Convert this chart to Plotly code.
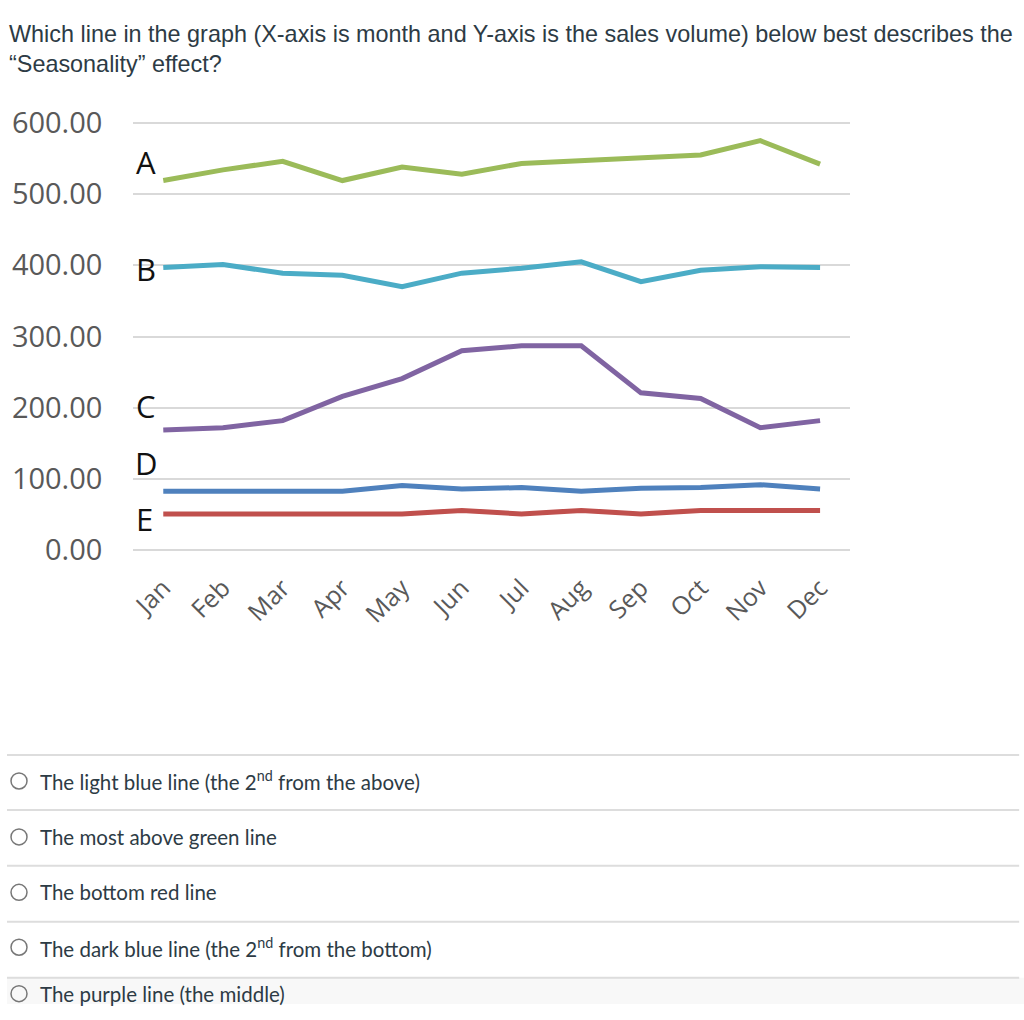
import plotly.graph_objects as go

W, H = 1024, 1020

months = ["Jan", "Feb", "Mar", "Apr", "May", "Jun", "Jul", "Aug", "Sep", "Oct", "Nov", "Dec"]
line_a = [519, 534, 546, 519, 538, 528, 543, 547, 550, 555, 575, 542]
line_b = [397, 401, 389, 386, 370, 389, 396, 405, 377, 393, 398, 397]
line_c = [169, 172, 182, 216, 241, 280, 287, 287, 221, 213, 172, 182]
line_d = [83, 83, 83, 83, 91, 86, 88, 83, 87, 88, 92, 86]
line_e = [51, 51, 51, 51, 51, 56, 51, 56, 51, 56, 56, 56]
y_ticks = [0, 100, 200, 300, 400, 500, 600]

series_names = ["A", "B", "C", "D", "E"]
series_values = [line_a, line_b, line_c, line_d, line_e]
series_colors = ["#9BBB59", "#4BACC6", "#8064A2", "#4F81BD", "#C0504D"]

question = [
    "Which line in the graph (X-axis is month and Y-axis is the sales volume) below best describes the",
    "\u201cSeasonality\u201d effect?",
]
options = [
    "The light blue line (the 2<sup>nd</sup> from the above)",
    "The most above green line",
    "The bottom red line",
    "The dark blue line (the 2<sup>nd</sup> from the bottom)",
    "The purple line (the middle)",
]

# the captured picture comes out slightly squeezed; compensate
SQ_A, SQ_B = 0.967, 17.0
SX_A, SX_B = 0.993, 7.0


def DX(x):
    return max(0.0, (x - SX_B) / SX_A)


def PX(x):
    return DX(x) / W


def DY(y):
    return (y - SQ_B) / SQ_A


def PY(y):
    return 1 - DY(y) / H


fig = go.Figure()
for name, vals, col in zip(series_names, series_values, series_colors):
    fig.add_trace(go.Scatter(x=months, y=vals, mode="lines", name=name,
                             line=dict(color=col, width=5), showlegend=False,
                             hoverinfo="skip"))

annotations = []
letter_pos = [(146, 160), (146, 267), (146, 405), (146, 462), (144, 518)]
for name, (lx, ly) in zip(series_names, letter_pos):
    annotations.append(dict(x=PX(lx), y=PY(ly), xref="paper", yref="paper", text=name,
                            showarrow=False, xanchor="center", yanchor="middle",
                            font=dict(family="Open Sans", size=31, color="#111111")))
# question text (first line pinned to the top edge)
annotations.append(dict(x=0.0, y=1.0, xref="paper", yref="paper", text=question[0],
                        showarrow=False, xanchor="left", yanchor="top",
                        font=dict(family="Liberation Sans", size=23.4, color="#2D3B45")))
annotations.append(dict(x=0.0, y=1 - 47.0 / H, xref="paper", yref="paper", text=question[1],
                        showarrow=False, xanchor="left", yanchor="middle",
                        font=dict(family="Liberation Sans", size=23.4, color="#2D3B45")))

shapes = []
sep_y = [754, 809, 865, 921, 977]
shapes.append(dict(type="rect", xref="paper", yref="paper", x0=0, x1=1,
                   y0=0, y1=PY(977), fillcolor="#F8F8F8", line=dict(width=0), layer="below"))
for sy in sep_y:
    shapes.append(dict(type="line", xref="paper", yref="paper", x0=PX(3), x1=PX(1019),
                       y0=PY(sy), y1=PY(sy), line=dict(color="#DDDDDD", width=2)))
opt_y = [780, 836, 891.5, 946.5, 993]
for oy, txt in zip(opt_y, options):
    shapes.append(dict(type="circle", xref="paper", yref="paper",
                       x0=PX(19 - 8), x1=PX(19 + 8), y0=PY(oy + 8), y1=PY(oy - 8),
                       line=dict(color="#777777", width=1.5)))
    annotations.append(dict(x=PX(38), y=PY(oy), xref="paper", yref="paper", text=txt,
                            showarrow=False, xanchor="left", yanchor="middle",
                            font=dict(family="Lato", size=20.5, color="#2D3B45")))

y_lo, y_hi = -3, 603
top0, bot0 = DY(121), DY(549)
ppu = (bot0 - top0) / 600.0

fig.update_layout(
    width=W, height=H, margin=dict(l=0, r=0, t=0, b=0),
    paper_bgcolor="white", plot_bgcolor="white",
    annotations=annotations, shapes=shapes,
    xaxis=dict(type="category", range=[-0.5, 11.5], domain=[PX(133.4), PX(849.8)],
               showgrid=False, showline=False, zeroline=False, ticks="",
               tickangle=-45, tickfont=dict(family="Open Sans", size=25, color="#595959"),
               ticklabelstandoff=15),
    yaxis=dict(range=[y_lo, y_hi],
               domain=[1 - (bot0 - y_lo * ppu) / H, 1 - (top0 - (y_hi - 600) * ppu) / H],
               tickvals=y_ticks, tickformat=".2f", showgrid=True, gridcolor="#D9D9D9",
               gridwidth=2, zeroline=False, showline=False, ticks="",
               tickfont=dict(family="Open Sans", size=29, color="#595959"),
               ticklabelstandoff=30),
)

post = ("document.documentElement.style.margin='0';document.body.style.margin='0';"
        "document.documentElement.style.overflow='hidden';document.body.style.overflow='hidden';")
fig.write_html("out.html", config={"displayModeBar": False}, post_script=post)
